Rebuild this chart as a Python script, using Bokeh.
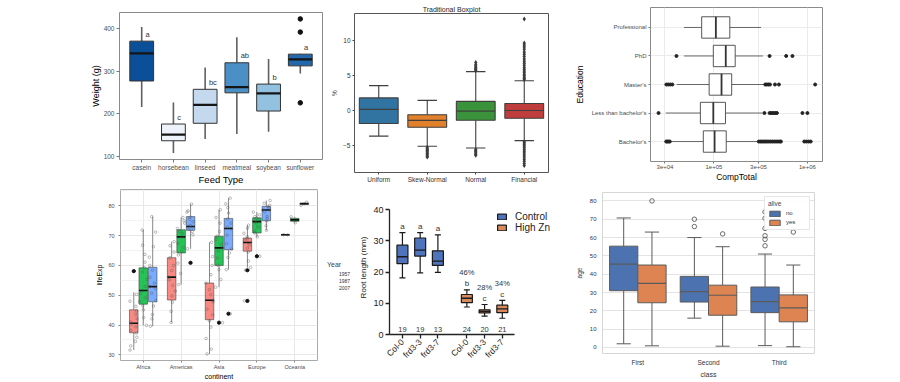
import math
from bokeh.plotting import figure
from bokeh.layouts import row, column
from bokeh.models import (ColumnDataSource, FactorRange, Range1d, FixedTicker,
                          Legend, LegendItem, CustomJSTickFormatter)
from bokeh.transform import dodge, jitter
from bokeh.core.properties import value
from bokeh.embed import file_html
from bokeh.resources import INLINE

# ======================= DATA =======================
# Panel 1: chick weight by feed type
feed_types = ["casein", "horsebean", "linseed", "meatmeal", "soybean", "sunflower"]
feed_lo = [216, 108, 141, 153, 158, 295]
feed_q1 = [277.25, 137, 178, 249.5, 206.75, 312.75]
feed_med = [342, 151.5, 221, 263, 248, 328]
feed_q3 = [370.75, 176.25, 257.75, 320, 270, 340.25]
feed_hi = [404, 227, 309, 380, 329, 341]
feed_letters = ["a", "c", "bc", "ab", "b", "a"]
feed_out_cat = ["sunflower", "sunflower", "sunflower"]
feed_out_val = [226, 392, 423]

# Panel 2: traditional boxplot of four distributions
dist_names = ["Uniform", "Skew-Normal", "Normal", "Financial"]
dist_lo = [-3.6, -5.05, -5.3, -4.25]
dist_q1 = [-1.8, -2.35, -1.35, -1.05]
dist_med = [0.2, -1.35, -0.05, 0.05]
dist_q3 = [1.85, -0.55, 1.35, 1.05]
dist_hi = [3.6, 1.5, 5.6, 4.3]
skew_out = [-5.2, -5.4, -5.55, -5.7, -5.85, -6.0, -6.15, -6.3, -6.5, -6.6]
normal_out = [5.75, 5.9, 6.05, 6.2, 6.4, 6.6, 6.9, -5.5, -5.7, -5.85, -6.0, -6.2, -6.35]
fin_out = [4.45, 4.6, 4.8, 5.0, 5.2, 5.45, 5.7, 5.95, 6.2, 6.5, 6.8, 7.1, 7.4, 7.75,
           8.1, 8.4, 8.8, 9.1, 9.4, 9.7, 13.1,
           -4.4, -4.6, -4.8, -5.0, -5.25, -5.5, -5.75, -6.0, -6.3, -6.6, -6.9, -7.2, -7.5, -7.8]

# Panel 3: CompTotal by education
edu_levels = ["Bachelor's", "Less than bachelor's", "Master's", "PhD", "Professional"]
comp_lo = [31900, 30600, 40100, 48000, 48000]
comp_q1 = [77100, 71700, 89000, 98600, 74000]
comp_med = [101700, 98600, 120700, 134000, 105000]
comp_q3 = [135500, 133000, 155000, 169000, 148000]
comp_hi = [289000, 327000, 346000, 335000, 319000]
comp_out_bach = [30900, 31800, 32700, 33800, 302000, 315000, 328000, 342000, 356000, 371000,
                 388000, 405000, 423000, 442000, 462000, 483000, 505000, 521000,
                 925000, 975000, 1030000, 1085000]
comp_out_less = [25600, 347000, 394000, 410000, 428000, 450000, 472000, 885000, 1000000]
comp_out_mast = [31000, 32500, 34200, 36000, 354000, 368000, 383000, 398000, 450000, 496000, 1210000]
comp_out_phd = [39800, 394000, 593000, 692000]

# Panel 4: life expectancy by continent and year
continents = ["Africa", "Americas", "Asia", "Europe", "Oceania"]
years = ["1957", "1987", "2007"]
life_lo = [31.6, 39.9, 39.6, 40.9, 53.6, 65.6, 30.3, 52.7, 58.6, 59.3, 69.6, 71.8, 70.26, 74.32, 80.2]
life_q1 = [37.4, 47.0, 47.8, 48.4, 64.2, 71.8, 41.8, 60.0, 65.3, 64.8, 70.9, 75.0, 70.28, 74.82, 80.46]
life_med = [40.6, 51.6, 52.9, 56.1, 69.6, 73.1, 48.3, 65.9, 72.4, 67.7, 74.7, 78.6, 70.30, 75.32, 80.72]
life_q3 = [45.1, 59.2, 59.4, 62.6, 72.0, 76.4, 54.1, 69.8, 75.8, 69.2, 76.0, 79.8, 70.31, 75.82, 80.98]
life_hi = [51.0, 71.9, 76.4, 68.0, 76.1, 80.6, 67.8, 78.7, 82.6, 73.5, 77.9, 81.8, 70.33, 76.32, 81.24]
life_out_cont = ["Africa", "Americas", "Asia", "Asia", "Europe", "Europe", "Europe"]
life_out_year = ["1957", "2007", "1987", "2007", "1957", "1957", "1987"]
life_out_val = [58.1, 60.9, 40.8, 43.8, 58.4, 48.1, 63.1]
pts_africa_1957 = [31.6, 33.0, 34.5, 35.9, 37.3, 38.2, 39.4, 40.3, 41.0, 42.1, 43.6, 44.8, 46.3, 48.0, 50.3, 58.1]
pts_africa_1987 = [39.9, 42.5, 45.1, 46.5, 47.9, 49.2, 50.6, 51.6, 53.0, 55.4, 57.8, 59.3, 61.1, 63.7, 66.8, 71.9]
pts_africa_2007 = [39.6, 42.1, 43.5, 46.4, 48.2, 50.7, 52.3, 52.9, 54.1, 56.0, 58.4, 60.0, 62.8, 66.3, 71.2, 76.4]
pts_americas_1957 = [40.9, 44.6, 47.6, 49.8, 51.4, 53.3, 55.2, 56.1, 58.3, 60.0, 62.6, 64.5, 66.6, 68.0]
pts_americas_1987 = [53.6, 57.3, 60.8, 63.5, 64.7, 66.1, 67.4, 69.6, 70.7, 71.5, 72.4, 74.2, 75.0, 76.1]
pts_americas_2007 = [60.9, 65.6, 70.3, 71.4, 72.2, 72.9, 73.5, 74.7, 75.5, 76.2, 77.9, 78.3, 80.6]
pts_asia_1957 = [30.3, 31.9, 35.5, 39.3, 41.4, 43.4, 45.3, 47.8, 48.3, 50.2, 51.9, 54.1, 56.9, 60.0, 63.0, 67.8]
pts_asia_1987 = [40.8, 52.7, 55.3, 58.6, 60.1, 62.5, 64.9, 65.9, 67.0, 68.7, 69.8, 71.4, 74.2, 76.1, 78.7]
pts_asia_2007 = [43.8, 58.6, 62.7, 64.2, 65.5, 67.3, 70.2, 72.4, 72.9, 74.2, 75.6, 77.6, 79.4, 80.7, 82.6]
pts_europe_1957 = [48.1, 58.4, 59.3, 61.5, 64.5, 65.8, 66.9, 67.7, 68.5, 69.0, 69.6, 70.8, 72.5, 73.5]
pts_europe_1987 = [63.1, 69.6, 70.9, 71.5, 72.9, 74.3, 74.8, 75.3, 75.9, 76.4, 77.0, 77.9]
pts_europe_2007 = [71.8, 73.3, 74.9, 75.7, 76.4, 78.1, 78.6, 79.3, 79.8, 80.2, 80.9, 81.8]
pts_oceania_1957 = [70.26, 70.33]
pts_oceania_1987 = [74.32, 76.32]
pts_oceania_2007 = [80.2, 81.24]

# Panel 5: root length
root_groups = ["Control", "Control", "Control", "High Zn", "High Zn", "High Zn"]
root_lines = ["Col-0", "frd3-3", "frd3-7", "Col-0", "frd3-3", "frd3-7"]
root_lo = [18.1, 19.7, 19.9, 8.8, 5.9, 5.2]
root_q1 = [22.7, 25.1, 22.1, 10.2, 6.9, 7.0]
root_med = [24.9, 27.0, 23.5, 11.6, 7.4, 8.2]
root_q3 = [28.6, 30.9, 26.8, 12.8, 7.9, 9.4]
root_hi = [32.6, 32.6, 31.9, 14.3, 9.6, 10.9]
root_letters = ["a", "a", "a", "b", "c", "c"]
root_pct = ["", "", "", "46%", "28%", "34%"]
root_n = ["19", "19", "13", "24", "20", "21"]

# Panel 6: titanic age by class and survival
titanic_class = ["First", "Second", "Third"]
no_lo = [2, 16, 1]
no_q1 = [31, 24.8, 19]
no_med = [45.5, 30.5, 25]
no_q3 = [55.3, 38.8, 33]
no_hi = [70.7, 60, 51]
yes_lo = [0.9, 0.7, 0.4]
yes_q1 = [24.4, 17.6, 14]
yes_med = [35, 28.5, 21.6]
yes_q3 = [45, 34, 28.7]
yes_hi = [63, 55, 45]
no_out_cls = ["Second", "Second", "Third", "Third", "Third", "Third", "Third", "Third"]
no_out_val = [66, 70, 55.5, 59, 61, 65, 70.5, 74]
yes_out_cls = ["First", "Second", "Third"]
yes_out_val = [80, 62, 63]

# ======================= STYLE =======================
GG = "Liberation Sans"
FEED_COLORS = ["#0b4f98", "#eef3fb", "#c4d8ee", "#4a8fc6", "#93c1e0", "#2368ad"]
DIST_COLORS = ["#3274a1", "#e1812c", "#3a923a", "#c03d3e"]
YEAR_COLORS = {"1957": "#F8766D", "1987": "#00BA38", "2007": "#619CFF"}
ROOT_COLORS = {"Control": "#4f74bb", "High Zn": "#d88a5c"}
TIT_NO, TIT_YES = "#4c72b0", "#dd8452"
DODGE4 = 0.25      # spacing of the year boxes inside a continent
GAP5 = 0.635       # extra gap between the two treatment groups


def make_fig(w, h, xr, yr, borders, **kw):
    l, r, t, b = borders
    p = figure(width=w, height=h, x_range=xr, y_range=yr, output_backend="svg",
               toolbar_location=None, min_border_left=l, min_border_right=r,
               min_border_top=t, min_border_bottom=b, **kw)
    p.xgrid.grid_line_color = None
    p.ygrid.grid_line_color = None
    return p


def style_axis(ax, font, size, color, tick_out=3, tick_color="#333333", standoff=2):
    ax.major_label_text_font = font
    ax.major_label_text_font_size = size
    ax.major_label_text_color = color
    ax.major_tick_in = 0
    ax.major_tick_out = tick_out
    ax.major_tick_line_color = tick_color if tick_out > 0 else None
    ax.minor_tick_line_color = None
    ax.major_label_standoff = standoff
    ax.axis_line_color = None


def axis_title(ax, text, font, size, standoff=2, color="#000000"):
    ax.axis_label = text
    ax.axis_label_text_font = font
    ax.axis_label_text_font_size = size
    ax.axis_label_text_font_style = "normal"
    ax.axis_label_text_color = color
    ax.axis_label_standoff = standoff


# ======================= PANEL 1 =======================
p1 = make_fig(328, 187, FactorRange(factors=feed_types, range_padding=0.2, range_padding_units="absolute"),
              Range1d(93, 438), (119, 6, 12, 25))
p1.outline_line_color = "#8a8a8a"
s1 = ColumnDataSource(dict(cat=feed_types, lo=feed_lo, q1=feed_q1, med=feed_med, q3=feed_q3,
                           hi=feed_hi, letter=feed_letters, color=FEED_COLORS))
p1.segment("cat", "q3", "cat", "hi", source=s1, line_color="#606060", line_width=1.6)
p1.segment("cat", "lo", "cat", "q1", source=s1, line_color="#606060", line_width=1.6)
p1.vbar(x="cat", bottom="q1", top="q3", width=0.75, source=s1, fill_color="color",
        line_color="#333333", line_width=1)
p1.rect(x="cat", y="med", width=0.75, height=2.2, height_units="screen", source=s1,
        fill_color="#151515", line_color=None)
p1.scatter(x=feed_out_cat, y=feed_out_val, size=4.5, color="#111111")
p1.text(x=dodge("cat", 0.12, range=p1.x_range), y="q3", text="letter", source=s1, y_offset=-7,
        text_font=value(GG), text_font_size="7.5px", text_color="#333333",
        text_align="left", text_baseline="middle")
p1.yaxis[0].ticker = FixedTicker(ticks=[100, 200, 300, 400])
style_axis(p1.xaxis[0], GG, "6.5px", "#4d4d4d", tick_color="#777777", standoff=1)
style_axis(p1.yaxis[0], GG, "6.5px", "#4d4d4d", tick_color="#777777", standoff=2)
axis_title(p1.xaxis[0], "Feed Type", GG, "9.5px", 0)
axis_title(p1.yaxis[0], "Weight (g)", GG, "9px", 0)

# ======================= PANEL 2 =======================
p2 = make_fig(232, 187, FactorRange(factors=dist_names), Range1d(-8.8, 13.9), (24, 12, 13, 15))
p2.title.text = "Traditional Boxplot"
p2.title.align = "center"
p2.title.text_font = GG
p2.title.text_font_size = "7px"
p2.title.text_font_style = "normal"
p2.title.text_color = "#262626"
p2.title.standoff = 1
p2.title.offset = 0
p2.outline_line_color = "#555555"
s2 = ColumnDataSource(dict(cat=dist_names, lo=dist_lo, q1=dist_q1, med=dist_med, q3=dist_q3,
                           hi=dist_hi, color=DIST_COLORS))
for a, b in (("lo", "q1"), ("q3", "hi")):
    p2.segment("cat", a, "cat", b, source=s2, line_color="#3f3f3f", line_width=1.1)
for c in ("lo", "hi"):
    p2.segment(dodge("cat", -0.2, range=p2.x_range), c, dodge("cat", 0.2, range=p2.x_range), c,
               source=s2, line_color="#3f3f3f", line_width=1.1)
p2.vbar(x="cat", bottom="q1", top="q3", width=0.8, source=s2, fill_color="color",
        line_color="#3f3f3f", line_width=1.1)
p2.rect(x="cat", y="med", width=0.8, height=1.2, height_units="screen", source=s2,
        fill_color="#3f3f3f", line_color=None)
out2_x = ["Skew-Normal"] * len(skew_out) + ["Normal"] * len(normal_out) + ["Financial"] * len(fin_out)
out2_y = skew_out + normal_out + fin_out
p2.scatter(x=out2_x, y=out2_y, marker="diamond", size=5, fill_color="#3d3d3d", line_color=None)
p2.yaxis[0].ticker = FixedTicker(ticks=[-5, 0, 5, 10])
style_axis(p2.xaxis[0], GG, "6.5px", "#333333", tick_out=2, tick_color="#444444", standoff=1)
style_axis(p2.yaxis[0], GG, "6.5px", "#333333", tick_out=2, tick_color="#444444", standoff=2)
axis_title(p2.yaxis[0], "%", GG, "6.5px", 2, "#333333")

# ======================= PANEL 3 =======================
p3 = make_fig(340, 187, Range1d(2.1e4, 1.45e6),
              FactorRange(factors=edu_levels, range_padding=0.2, range_padding_units="absolute"),
              (90, 78, 7, 26), x_axis_type="log")
p3.outline_line_color = "#8a8a8a"
t3 = FixedTicker(ticks=[3e4, 1e5, 3e5, 1e6])
p3.xaxis[0].ticker = t3
p3.xgrid[0].ticker = t3
p3.xaxis[0].formatter = CustomJSTickFormatter(code="return tick.toExponential(0).replace('e+', 'e+0');")
p3.xgrid.grid_line_color = "#ebebeb"
p3.ygrid.grid_line_color = "#ebebeb"
s3 = ColumnDataSource(dict(cat=edu_levels, lo=comp_lo, q1=comp_q1, med=comp_med, q3=comp_q3, hi=comp_hi))
p3.segment("lo", "cat", "q1", "cat", source=s3, line_color="#444444", line_width=0.8)
p3.segment("q3", "cat", "hi", "cat", source=s3, line_color="#444444", line_width=0.8)
p3.hbar(y="cat", left="q1", right="q3", height=0.75, source=s3, fill_color="white",
        line_color="#444444", line_width=0.9)
p3.rect(x="med", y="cat", width=1.8, width_units="screen", height=0.75, source=s3,
        fill_color="#333333", line_color=None)
out3_y = (["Bachelor's"] * len(comp_out_bach) + ["Less than bachelor's"] * len(comp_out_less)
          + ["Master's"] * len(comp_out_mast) + ["PhD"] * len(comp_out_phd))
out3_x = comp_out_bach + comp_out_less + comp_out_mast + comp_out_phd
p3.scatter(x=out3_x, y=out3_y, size=3, color="#222222")
style_axis(p3.xaxis[0], GG, "6px", "#4d4d4d", tick_out=2, tick_color="#777777", standoff=1)
style_axis(p3.yaxis[0], GG, "6px", "#4d4d4d", tick_out=2, tick_color="#777777")
axis_title(p3.xaxis[0], "CompTotal", GG, "8.5px", 0)
axis_title(p3.yaxis[0], "Education", GG, "8.5px", 4)

# ======================= PANEL 4 =======================
p4 = make_fig(322, 195, Range1d(-0.6, len(continents) - 0.4), Range1d(28.1, 85.5), (120, 5, 2, 20))
p4.outline_line_color = "#aaaaaa"
t4 = FixedTicker(ticks=[30, 40, 50, 60, 70, 80], minor_ticks=[35, 45, 55, 65, 75, 85])
p4.yaxis[0].ticker = t4
p4.ygrid[0].ticker = t4
p4.ygrid.grid_line_color = "#e8e8e8"
p4.ygrid.minor_grid_line_color = "#f3f3f3"
t4x = FixedTicker(ticks=list(range(len(continents))))
p4.xaxis[0].ticker = t4x
p4.xgrid[0].ticker = t4x
p4.xgrid.grid_line_color = "#e8e8e8"
p4.xaxis[0].major_label_overrides = {i: c for i, c in enumerate(continents)}
life_pos = [ci + (yi - 1) * DODGE4 for ci in range(len(continents)) for yi in range(len(years))]
s4 = ColumnDataSource(dict(x=life_pos, lo=life_lo, q1=life_q1, med=life_med, q3=life_q3, hi=life_hi,
                           color=[YEAR_COLORS[y] for c in continents for y in years]))
p4.segment("x", "lo", "x", "q1", source=s4, line_color="#555555", line_width=0.7)
p4.segment("x", "q3", "x", "hi", source=s4, line_color="#555555", line_width=0.7)
p4.vbar(x="x", bottom="q1", top="q3", width=DODGE4 * 0.9, source=s4, fill_color="color",
        fill_alpha=0.85, line_color="#444444", line_width=0.6)
p4.rect(x="x", y="med", width=DODGE4 * 0.9, height=1.6, height_units="screen", source=s4,
        fill_color="#111111", line_color=None)
life_pts = [pts_africa_1957, pts_africa_1987, pts_africa_2007,
            pts_americas_1957, pts_americas_1987, pts_americas_2007,
            pts_asia_1957, pts_asia_1987, pts_asia_2007,
            pts_europe_1957, pts_europe_1987, pts_europe_2007,
            pts_oceania_1957, pts_oceania_1987, pts_oceania_2007]
pts_x = [xp for xp, vals in zip(life_pos, life_pts) for _ in vals]
pts_y = [v for vals in life_pts for v in vals]
p4.scatter(x=jitter("x", width=DODGE4 * 0.8), y="y", source=ColumnDataSource(dict(x=pts_x, y=pts_y)),
           size=2.6, fill_color=None, line_color="#555555", line_alpha=0.55, line_width=0.7)
out4_x = [continents.index(c) + (years.index(y) - 1) * DODGE4 for c, y in zip(life_out_cont, life_out_year)]
p4.scatter(x=out4_x, y=life_out_val, size=3.2, color="#111111")
style_axis(p4.yaxis[0], GG, "5.5px", "#4d4d4d", tick_out=2, tick_color="#888888")
style_axis(p4.xaxis[0], GG, "5.5px", "#4d4d4d", tick_out=2, tick_color="#888888", standoff=1)
axis_title(p4.xaxis[0], "continent", GG, "7px", 0)
axis_title(p4.yaxis[0], "lifeExp", GG, "7px", 2)

# legend of panel 4 in its own narrow figure (outside the panel border, as in ggplot)
pl = figure(width=34, height=195, x_range=Range1d(0, 1), y_range=Range1d(0, 1), output_backend="svg",
            toolbar_location=None, min_border=0, x_axis_location=None, y_axis_location=None)
pl.outline_line_color = None
pl.xgrid.grid_line_color = None
pl.ygrid.grid_line_color = None
leg_items = []
for y in years:
    r = pl.vbar(x=[], top=[], width=0.5, fill_color=YEAR_COLORS[y], fill_alpha=0.85,
                line_color="#444444", line_width=0.6)
    leg_items.append(LegendItem(label=y, renderers=[r]))
leg4 = Legend(items=leg_items, title="Year", location=(5, 91), margin=0, padding=2, spacing=0,
              glyph_width=9, glyph_height=7, label_standoff=3, label_height=7,
              label_text_font=GG, label_text_font_size="5px", label_text_color="#333333",
              title_text_font=GG, title_text_font_size="7px", title_text_font_style="normal",
              title_standoff=2, border_line_color=None, background_fill_alpha=0)
pl.add_layout(leg4)

# ======================= PANEL 5 =======================
group_order = list(dict.fromkeys(root_groups))
root_pos = [i + GAP5 * group_order.index(g) for i, g in enumerate(root_groups)]
p5 = make_fig(216, 195, Range1d(-0.73, 9.2), Range1d(0, 42.9), (29, 7, 13, 48))
p5.outline_line_color = None
s5 = ColumnDataSource(dict(x=root_pos, lo=root_lo, q1=root_q1, med=root_med, q3=root_q3, hi=root_hi,
                           letter=root_letters, pct=root_pct, n=root_n, zero=[0] * len(root_pos),
                           color=[ROOT_COLORS[g] for g in root_groups]))
p5.segment("x", "lo", "x", "q1", source=s5, line_color="#1a1a1a", line_width=1.2)
p5.segment("x", "q3", "x", "hi", source=s5, line_color="#1a1a1a", line_width=1.2)
for c in ("lo", "hi"):
    p5.segment(dodge("x", -0.17), c, dodge("x", 0.17), c,
               source=s5, line_color="#1a1a1a", line_width=1.2)
rb5 = p5.vbar(x="x", bottom="q1", top="q3", width=0.62, source=s5, fill_color="color",
              line_color="#1a1a1a", line_width=1.2)
p5.rect(x="x", y="med", width=0.62, height=1.4, height_units="screen", source=s5,
        fill_color="#1a1a1a", line_color=None)
p5.text(x="x", y="hi", text="letter", source=s5, y_offset=-6, text_font=value(GG),
        text_font_size="8px", text_color="#333333", text_align="center", text_baseline="middle")
p5.text(x="x", y="hi", text="pct", source=s5, y_offset=-17, text_font=value(GG),
        text_font_size="7.5px", text_color="#333333", text_align="center", text_baseline="middle")
p5.text(x="x", y="zero", text="n", source=s5, y_offset=-5, text_font=value(GG),
        text_font_size="7.5px", text_color="#333333", text_align="center", text_baseline="middle")
p5.yaxis[0].ticker = FixedTicker(ticks=[0, 10, 20, 30, 40])
p5.xaxis[0].ticker = FixedTicker(ticks=root_pos)
p5.xaxis[0].major_label_overrides = {xp: ln for xp, ln in zip(root_pos, root_lines)}
for ax in (p5.xaxis[0], p5.yaxis[0]):
    style_axis(ax, GG, "9px", "#222222", tick_out=4, tick_color="#222222", standoff=2)
    ax.axis_line_color = "#222222"
    ax.axis_line_width = 1.3
    ax.major_tick_line_width = 1.3
p5.yaxis[0].bounds = (0, 40)
p5.xaxis[0].bounds = (-0.73, 6.32)
p5.xaxis[0].major_label_orientation = math.pi / 4
p5.xaxis[0].major_label_text_font_size = "8.5px"
axis_title(p5.yaxis[0], "Root length (mm)", GG, "8px", 2, "#222222")
leg5 = Legend(items=[LegendItem(label="Control", renderers=[rb5], index=0),
                     LegendItem(label="High Zn", renderers=[rb5], index=3)],
              location=(107, 101), margin=0, padding=0, spacing=0,
              glyph_width=11, glyph_height=7, label_standoff=8, label_height=10,
              label_text_font=GG, label_text_font_size="10px", label_text_color="#222222",
              border_line_color=None, background_fill_alpha=0)
p5.add_layout(leg5)

# ======================= PANEL 6 =======================
p6 = make_fig(328, 195, FactorRange(factors=titanic_class), Range1d(-3.3, 84.6), (26, 86, 5, 29))
p6.outline_line_color = "#d6d6d6"
t6 = FixedTicker(ticks=[0, 10, 20, 30, 40, 50, 60, 70, 80])
p6.yaxis[0].ticker = t6
p6.ygrid[0].ticker = t6
p6.ygrid.grid_line_color = "#e3e3e3"
legend_renderers = []
for off, lo, q1, med, q3, hi, col in ((-0.2, no_lo, no_q1, no_med, no_q3, no_hi, TIT_NO),
                                     (0.2, yes_lo, yes_q1, yes_med, yes_q3, yes_hi, TIT_YES)):
    src = ColumnDataSource(dict(x=titanic_class, lo=lo, q1=q1, med=med, q3=q3, hi=hi))
    xc = dodge("x", off, range=p6.x_range)
    p6.segment(xc, "lo", xc, "q1", source=src, line_color="#5b5b5b", line_width=1)
    p6.segment(xc, "q3", xc, "hi", source=src, line_color="#5b5b5b", line_width=1)
    for c in ("lo", "hi"):
        p6.segment(dodge("x", off - 0.1, range=p6.x_range), c, dodge("x", off + 0.1, range=p6.x_range), c,
                   source=src, line_color="#5b5b5b", line_width=1)
    r = p6.vbar(x=xc, bottom="q1", top="q3", width=0.4, source=src, fill_color=col,
                line_color="#5b5b5b", line_width=1)
    p6.rect(x=xc, y="med", width=0.4, height=1.2, height_units="screen", source=src,
            fill_color="#5b5b5b", line_color=None)
    legend_renderers.append(r)
p6.scatter(x=dodge("x", -0.2, range=p6.x_range), y="y",
           source=ColumnDataSource(dict(x=no_out_cls, y=no_out_val)),
           size=4.5, fill_color=None, line_color="#5b5b5b", line_width=0.9)
p6.scatter(x=dodge("x", 0.2, range=p6.x_range), y="y",
           source=ColumnDataSource(dict(x=yes_out_cls, y=yes_out_val)),
           size=4.5, fill_color=None, line_color="#5b5b5b", line_width=0.9)
style_axis(p6.xaxis[0], GG, "6.5px", "#333333", tick_out=0, standoff=5)
style_axis(p6.yaxis[0], GG, "6px", "#333333", tick_out=0, standoff=6)
axis_title(p6.xaxis[0], "class", GG, "7px", 2, "#333333")
axis_title(p6.yaxis[0], "age", GG, "6.5px", 4, "#333333")
leg6 = Legend(items=[LegendItem(label="no", renderers=[legend_renderers[0]]),
                     LegendItem(label="yes", renderers=[legend_renderers[1]])],
              title="alive", location="top_right", margin=4, padding=3, spacing=1,
              glyph_width=13, glyph_height=7, label_standoff=5, label_height=8,
              label_text_font=GG, label_text_font_size="6px", label_text_color="#333333",
              title_text_font=GG, title_text_font_size="6.5px", title_text_font_style="normal",
              title_standoff=2, border_line_color="#d0d0d0", background_fill_alpha=0.9)
p6.add_layout(leg6)

# each figure in its own box so that the row does not align the plot frames
top = row(column(p1), column(p2), column(p3))
bottom = row(column(p4), column(pl), column(p5), column(p6))
layout = column(top, bottom)
open("out.html", "w").write(file_html(layout, INLINE))
